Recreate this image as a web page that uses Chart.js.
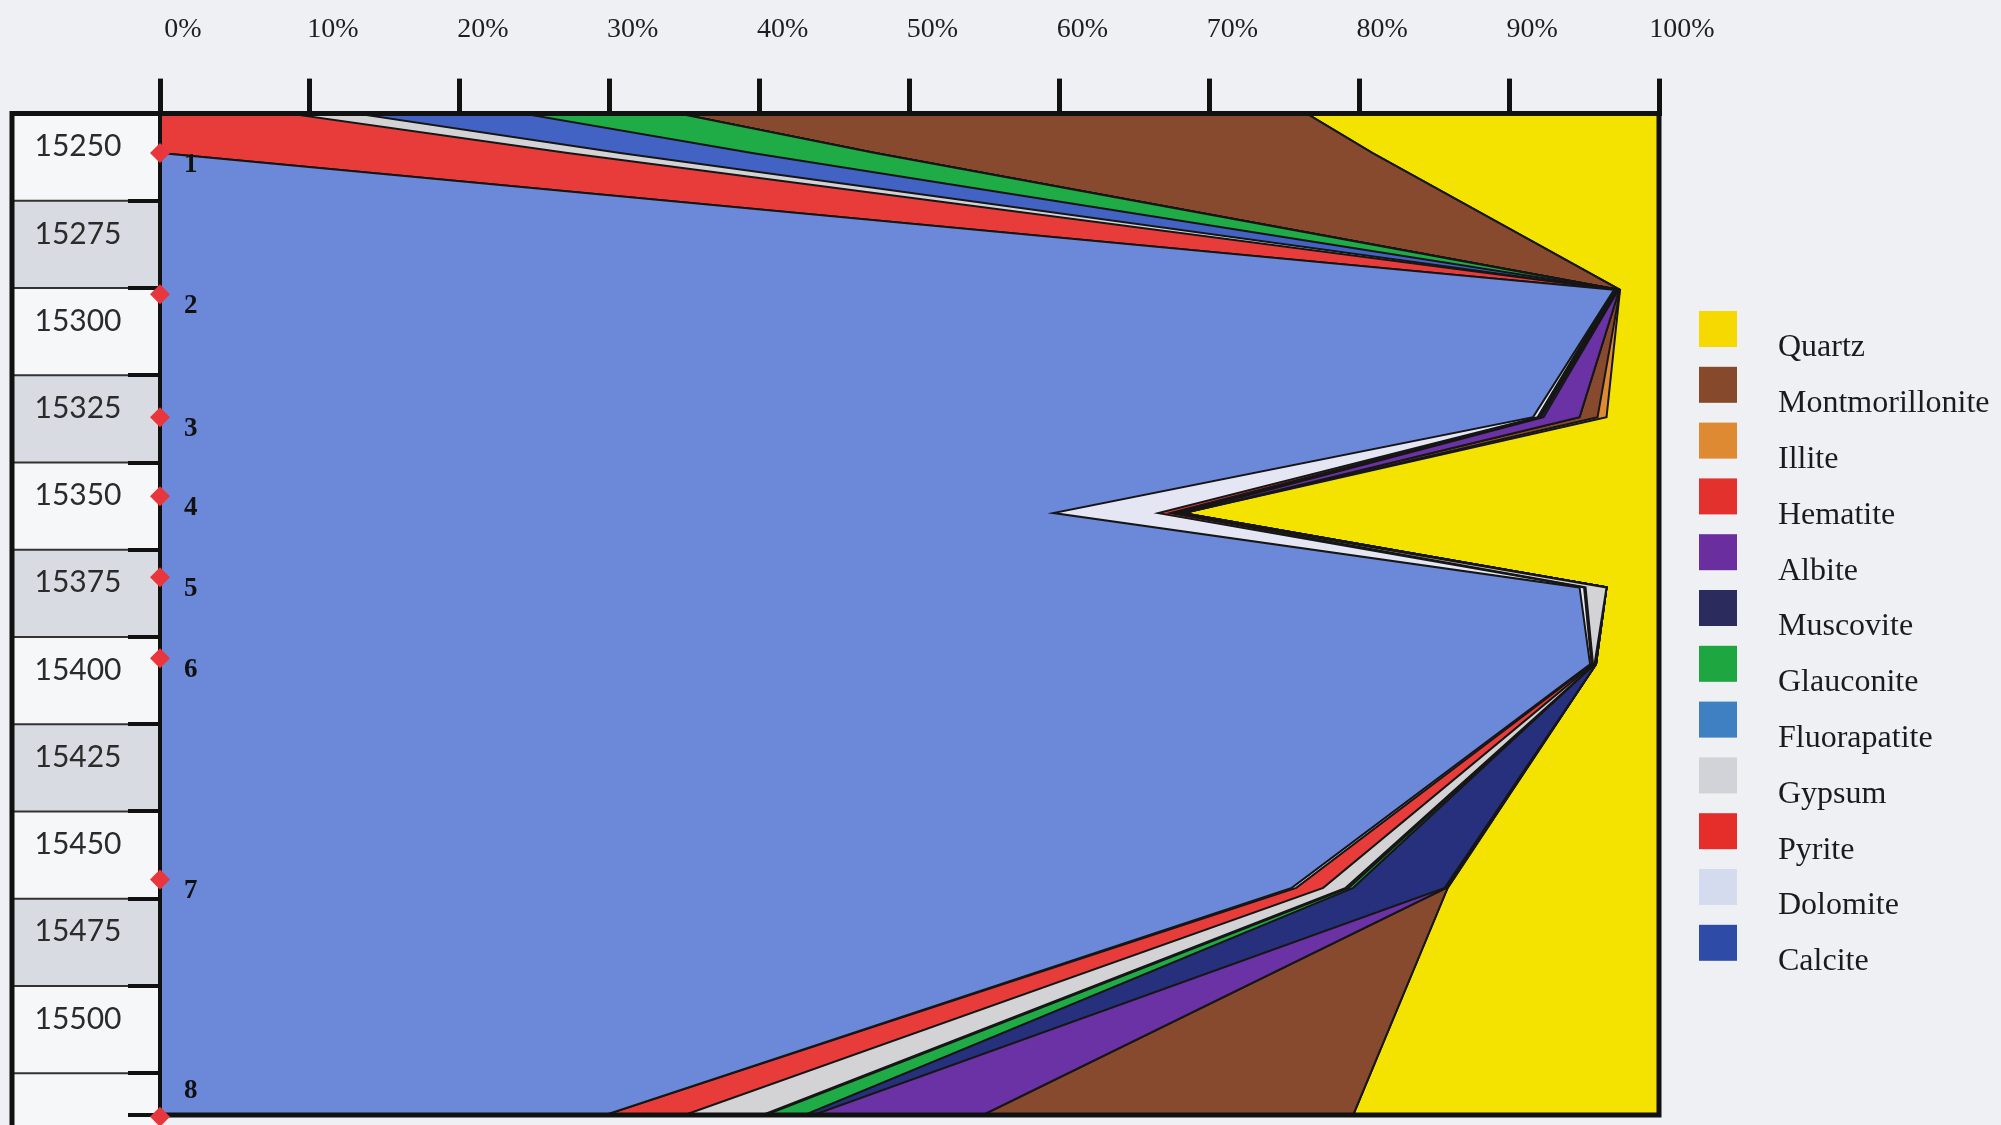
<!DOCTYPE html>
<html>
<head>
<meta charset="utf-8">
<title>Mineral composition vs depth</title>
<script src="https://cdn.jsdelivr.net/npm/chart.js@4.4.1/dist/chart.umd.min.js"></script>
<style>
    html, body { margin: 0; padding: 0; background: #eef0f4; }
    #mineralChart { display: block; }
</style>
</head>
<body>
<canvas id="mineralChart" width="2001" height="1125"></canvas>
<script>
// Depth of each row (ft): top edge, samples 1-7, bottom edge
const depths = [15250, 15261.3, 15300.5, 15337, 15364.5, 15385.8, 15407.8, 15471.9, 15537];

// Mineral percentages per row
const calcite = [0, 0, 97.0, 91.6, 59.6, 94.7, 95.4, 75.5, 29.7];
const dolomite = [0, 0, 0, 0.3, 7.0, 0.3, 0.1, 0.3, 0];
const pyrite = [8.6, 27.2, 0.1, 0.1, 0.8, 0.1, 0.1, 1.8, 5.3];
const gypsum = [4.5, 3.5, 0.05, 0.1, 0.2, 1.4, 0.1, 1.5, 5.2];
const fluorapatite = [11.1, 8.8, 0.05, 0, 0.1, 0, 0, 0.2, 0.2];
const glauconite = [10.4, 8.2, 0.05, 0, 0.1, 0, 0, 0.3, 2.6];
const muscovite = [0, 0, 0.05, 0.2, 0.3, 0, 0.1, 6.1, 0.6];
const albite = [0, 0, 0.05, 2.4, 0.2, 0, 0, 0.1, 11.3];
const hematite = [0, 0, 0, 0, 0, 0, 0, 0, 0];
const montmorillonite = [41.9, 33.2, 0.05, 1.2, 0, 0, 0, 0.1, 24.7];
const illite = [0, 0, 0, 0.6, 0, 0, 0, 0, 0];
const quartz = [23.5, 19.1, 2.6, 3.5, 31.7, 3.5, 4.2, 14.1, 20.4];

// Sample markers on the depth track
const sampleDepths = [15261.3, 15301.8, 15337, 15359.7, 15382.9, 15406.1, 15469.5, 15537.5];
const sampleNames = ["1", "2", "3", "4", "5", "6", "7", "8"];

// Depth column labels
const depthTicks = [15250, 15275, 15300, 15325, 15350, 15375, 15400, 15425, 15450, 15475, 15500];

// Stacking order, left to right
const minerals = ["Calcite", "Dolomite", "Pyrite", "Gypsum", "Fluorapatite", "Glauconite",
    "Muscovite", "Albite", "Hematite", "Montmorillonite", "Illite", "Quartz"];
const mineralValues = [calcite, dolomite, pyrite, gypsum, fluorapatite, glauconite,
    muscovite, albite, hematite, montmorillonite, illite, quartz];

// Legend order (top to bottom)
const legendOrder = ["Quartz", "Montmorillonite", "Illite", "Hematite", "Albite", "Muscovite",
    "Glauconite", "Fluorapatite", "Gypsum", "Pyrite", "Dolomite", "Calcite"];

const areaColors = {
    Calcite: "#6b89d8", Dolomite: "#e4e7f3", Pyrite: "#e83c3a", Gypsum: "#d3d3d6",
    Fluorapatite: "#4363c4", Glauconite: "#1fab45", Muscovite: "#27307c", Albite: "#6a32a4",
    Hematite: "#e2332f", Montmorillonite: "#874a2e", Illite: "#dd8a32", Quartz: "#f4e200"
};
const swatchColors = {
    Quartz: "#f6d900", Montmorillonite: "#86492c", Illite: "#dd8a33", Hematite: "#e3322e",
    Albite: "#6b2e9e", Muscovite: "#2c2b5d", Glauconite: "#1ea640", Fluorapatite: "#3f80c2",
    Gypsum: "#d2d3d8", Pyrite: "#e52e2a", Dolomite: "#d4dbef", Calcite: "#2e4ba8"
};

const BOX_STEP = 25;

// Depth boxes on the left (drawn under the axis ticks)
const depthColumn = {
    id: "depthColumn",
    beforeDraw(chart) {
        const { ctx, chartArea: a, scales: { y } } = chart;
        const colLeft = 12;
        ctx.save();
        let i = 0;
        for (let d = depthTicks[0]; d < y.max; d += BOX_STEP, i++) {
            const top = y.getPixelForValue(d);
            const bottom = d + BOX_STEP > y.max ? chart.height : y.getPixelForValue(d + BOX_STEP);
            const labelled = depthTicks.includes(d);
            ctx.fillStyle = (i % 2 === 1 && labelled) ? "#d9dbe3" : "#f6f7f9";
            ctx.fillRect(colLeft, top, a.left - colLeft, bottom - top);
            if (i > 0) {
                ctx.strokeStyle = "#333";
                ctx.lineWidth = 2;
                ctx.beginPath();
                ctx.moveTo(colLeft, top);
                ctx.lineTo(a.left, top);
                ctx.stroke();
            }
            if (labelled) {
                ctx.fillStyle = "#2b2b2b";
                ctx.font = "30px Lato";
                ctx.textAlign = "center";
                ctx.textBaseline = "middle";
                ctx.fillText(String(d), 78, top + 33);
            }
        }
        // outer border of the column
        ctx.strokeStyle = "#111";
        ctx.lineWidth = 5;
        ctx.beginPath();
        ctx.moveTo(colLeft, chart.height);
        ctx.lineTo(colLeft, a.top);
        ctx.lineTo(a.left, a.top);
        ctx.stroke();
        ctx.restore();
    }
};

// Frame lines, drawn just before the sample markers so the diamonds sit on top
const frameLines = {
    id: "frameLines",
    beforeDatasetDraw(chart, args) {
        if (args.index !== chart.data.datasets.length - 1) return;
        const { ctx, chartArea: a } = chart;
        ctx.save();
        ctx.strokeStyle = "#111";
        ctx.lineWidth = 5;
        ctx.beginPath();
        ctx.moveTo(a.left, a.top);
        ctx.lineTo(a.right, a.top);
        ctx.lineTo(a.right, a.bottom);
        ctx.lineTo(a.left, a.bottom);
        ctx.stroke();
        ctx.lineWidth = 4;
        ctx.beginPath();
        ctx.moveTo(a.left, a.top);
        ctx.lineTo(a.left, a.bottom);
        ctx.stroke();
        ctx.restore();
    }
};

// Sample numbers next to the diamonds + legend
const annotations = {
    id: "annotations",
    afterDraw(chart) {
        const { ctx, chartArea: a } = chart;
        const meta = chart.getDatasetMeta(chart.data.datasets.length - 1);
        ctx.save();
        ctx.fillStyle = "#111";
        ctx.font = "bold 27px 'Liberation Serif'";
        ctx.textAlign = "left";
        ctx.textBaseline = "middle";
        meta.data.forEach((pt, i) => {
            ctx.fillText(sampleNames[i], pt.x + 24, Math.min(pt.y + 12, a.bottom - 24));
        });

        // legend
        const swatchX = 1699, swatchW = 38, swatchH = 36, firstTop = 311, rowGap = 55.8;
        ctx.font = "32px 'Liberation Serif'";
        legendOrder.forEach((name, i) => {
            const top = firstTop + i * rowGap;
            ctx.fillStyle = swatchColors[name];
            ctx.fillRect(swatchX, top, swatchW, swatchH);
            ctx.fillStyle = "#1b1b1b";
            ctx.fillText(name, 1778, top + swatchH / 2 + 19);
        });
        ctx.restore();
    }
};

const datasets = minerals.map((name, i) => ({
    label: name,
    data: depths.map((d, r) => ({ x: mineralValues[i][r], y: d })),
    backgroundColor: areaColors[name],
    borderColor: "#161616",
    borderWidth: 2,
    pointRadius: 0,
    tension: 0,
    fill: i === 0 ? "origin" : "-1",
}));

datasets.push({
    label: "Samples",
    data: sampleDepths.map((d) => ({ x: 0, y: d })),
    stack: "samples",
    showLine: false,
    fill: false,
    pointStyle: "rectRot",
    pointRadius: 10,
    pointBackgroundColor: "#e8363c",
    pointBorderWidth: 0,
    clip: false,
    order: -1,
});

const ctx = document.getElementById("mineralChart").getContext("2d");
new Chart(ctx, {
    type: "line",
    data: { datasets: datasets },
    options: {
        indexAxis: "y",
        responsive: false,
        animation: false,
        layout: { padding: { left: 128, right: 342, top: -19, bottom: 3 } },
        scales: {
            x: {
                type: "linear",
                position: "top",
                stacked: true,
                min: 0,
                max: 100,
                ticks: {
                    stepSize: 10,
                    callback: (value) => value + "%",
                    font: { family: "Liberation Serif", size: 28 },
                    color: "#1e1e1e",
                    padding: 32,
                    labelOffset: 23,
                    maxRotation: 0,
                    autoSkip: false,
                },
                grid: { drawOnChartArea: false, tickLength: 35, lineWidth: 5, color: "#111" },
                border: { color: "#111", width: 5 },
            },
            y: {
                type: "linear",
                reverse: true,
                min: 15250,
                max: 15537,
                ticks: { stepSize: 25, display: false },
                grid: { drawOnChartArea: false, tickLength: 32, lineWidth: 4, color: "#111" },
                border: { color: "#111", width: 4 },
            },
        },
        plugins: {
            legend: { display: false },
            tooltip: { enabled: false },
        },
    },
    plugins: [depthColumn, frameLines, annotations],
});
</script>
</body>
</html>
